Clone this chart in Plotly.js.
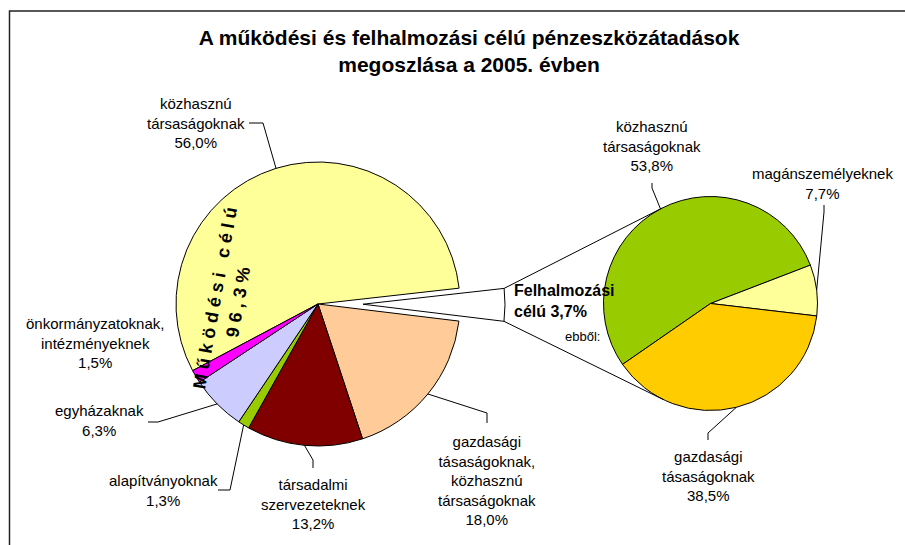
<!DOCTYPE html>
<html><head><meta charset="utf-8">
<script src="https://cdn.plot.ly/plotly-3.0.1.min.js"></script>
<style>html,body{margin:0;padding:0;background:#fff}</style>
</head><body><div id="chart" style="width:905px;height:545px"></div>
<script>
// ---- data ----
const chartTitle = 'A működési és felhalmozási célú pénzeszközátadások<br>megoszlása a 2005. évben';
const leftLabels = ['közhasznú<br>társaságoknak', 'Felhalmozási<br>célú', 'gazdasági<br>tásaságoknak,<br>közhasznú<br>társaságoknak', 'társadalmi<br>szervezeteknek', 'alapítványoknak', 'egyházaknak', 'önkormányzatoknak,<br>intézményeknek'];
const leftValues = [56.0, 3.7, 18.0, 13.2, 1.3, 6.3, 1.5];
const leftColors = ['#FFFF99', '#FFFFFF', '#FFCC99', '#800000', '#99CC00', '#CCCCFF', '#FF00FF'];
const rightLabels = ['közhasznú<br>társaságoknak', 'magánszemélyeknek', 'gazdasági<br>tásaságoknak'];
const rightValues = [53.8, 7.7, 38.5];
const rightColors = ['#99CC00', '#FFFF99', '#FFCC00'];
const otherIndex = 1;
const operatingTitle = 'Működési célú';
const breakdownNote = 'ebből:';

// ---- layout geometry (pixels) ----
const W = 905, H = 545;
const L = {cx: 318, cy: 304, r: 142, rot: -118, pull: 0.317};
const R = {cx: 710.5, cy: 303.5, r: 107, rot: -124.7};
const X = px => px / W;
const Y = py => 1 - py / H;
const FONT = 'Liberation Sans, Arial, sans-serif';

function fmt(v) { return v.toFixed(1).replace('.', ',') + '%'; }
function spaced(s) { return s.split(' ').map(w => Array.from(w).join('\u00A0')).join('\u00A0\u00A0\u00A0'); }
function sliceAngles(values, rot) {
  const tot = values.reduce((a, b) => a + b, 0);
  let cum = 0;
  return values.map(v => { const a0 = rot + 360 * cum / tot; cum += v; return [a0, rot + 360 * cum / tot]; });
}
function pt(cx, cy, r, deg) { const a = deg * Math.PI / 180; return [cx + r * Math.sin(a), cy - r * Math.cos(a)]; }

const angL = sliceAngles(leftValues, L.rot);
const angR = sliceAngles(rightValues, R.rot);

function domainFor(c, ext) {
  return {x: [X(c.cx - ext), X(c.cx + ext)], y: [Y(c.cy + ext), Y(c.cy - ext)]};
}

const traces = [
  {type: 'pie', values: leftValues, labels: leftLabels.map(s => s.replace(/<br>/g, ' ')), sort: false,
   direction: 'clockwise', rotation: L.rot,
   pull: leftValues.map((v, i) => i === otherIndex ? L.pull : 0),
   marker: {colors: leftColors, line: {color: '#000', width: 1}},
   textinfo: 'none', hoverinfo: 'none', showlegend: false,
   domain: domainFor(L, L.r * (1 + L.pull))},
  {type: 'pie', values: rightValues, labels: rightLabels.map(s => s.replace(/<br>/g, ' ')), sort: false,
   direction: 'clockwise', rotation: R.rot,
   marker: {colors: rightColors, line: {color: '#000', width: 1}},
   textinfo: 'none', hoverinfo: 'none', showlegend: false,
   domain: domainFor(R, R.r)}
];

// ---- connector lines (white slice -> second pie tangents) ----
const shapes = [];
const [o0, o1] = angL[otherIndex];
const om = (o0 + o1) / 2;
const oc = pt(L.cx, L.cy, L.pull * L.r, om);
const P1 = pt(oc[0], oc[1], L.r, o0);
const P2 = pt(oc[0], oc[1], L.r, o1);
function tangent(P, sign) {
  const dx = P[0] - R.cx, dy = P[1] - R.cy;
  const d = Math.hypot(dx, dy);
  const phi = Math.atan2(dx, -dy) * 180 / Math.PI;
  const alpha = Math.acos(R.r / d) * 180 / Math.PI;
  return pt(R.cx, R.cy, R.r, phi + sign * alpha);
}
const T1 = tangent(P1, 1), T2 = tangent(P2, -1);
[[P1, T1], [P2, T2]].forEach(([a, b]) => shapes.push({type: 'line', xref: 'paper', yref: 'paper',
  x0: X(a[0]), y0: Y(a[1]), x1: X(b[0]), y1: Y(b[1]), line: {color: '#000', width: 1}}));

// frame
shapes.push({type: 'rect', xref: 'paper', yref: 'paper', x0: X(9.5), x1: 1.05, y0: -0.05, y1: Y(11),
  line: {color: '#222', width: 1.5}, fillcolor: 'rgba(0,0,0,0)'});

// ---- labels and leader lines ----
const leftLabelPos = {0: [196, 123], 2: [487, 480], 3: [313, 504], 4: [163, 490], 5: [99, 420], 6: [95, 343]};
const leftLeader = {0: [[249, 123], [263, 123]], 2: [[487, 423], [487, 413]], 3: [[313, 468], [313, 460]],
                    4: [[218, 490], [230, 490]], 5: [[148, 422], [158, 422]]};
const rightLabelPos = {0: [652, 146], 1: [822, 183.5], 2: [708, 476]};
const rightLeader = {0: [[652, 183], [652, 188]], 1: [[824, 205], [824, 212]], 2: [[708, 440], [708, 433]]};

const annotations = [];
function addLabels(labels, values, ang, c, pos, leaders) {
  labels.forEach((lab, i) => {
    if (pos[i]) {
      annotations.push({xref: 'paper', yref: 'paper', x: X(pos[i][0]), y: Y(pos[i][1]),
        xanchor: 'center', yanchor: 'middle', align: 'center', showarrow: false,
        text: lab + '<br>' + fmt(values[i]), font: {family: FONT, size: 15, color: '#000'}});
    }
    if (leaders[i]) {
      const m = (ang[i][0] + ang[i][1]) / 2;
      const e = pt(c.cx, c.cy, c.r, m);
      const pts = leaders[i].concat([e]);
      const path = 'M ' + pts.map(p => X(p[0]) + ' ' + Y(p[1])).join(' L ');
      shapes.push({type: 'path', xref: 'paper', yref: 'paper', path: path, line: {color: '#000', width: 1}});
    }
  });
}
addLabels(leftLabels, leftValues, angL, L, leftLabelPos, leftLeader);
addLabels(rightLabels, rightValues, angR, R, rightLabelPos, rightLeader);

annotations.push({xref: 'paper', yref: 'paper', x: X(512), y: Y(301.5), xanchor: 'left', yanchor: 'middle',
  align: 'left', showarrow: false, text: leftLabels[otherIndex] + ' ' + fmt(leftValues[otherIndex]),
  font: {family: FONT, size: 16, color: '#000', weight: 700}});
annotations.push({xref: 'paper', yref: 'paper', x: X(602), y: Y(336), xanchor: 'right', yanchor: 'middle',
  showarrow: false, text: breakdownNote, font: {family: FONT, size: 13, color: '#000'}});

const operatingTotal = leftValues.reduce((a, b, i) => i === otherIndex ? a : a + b, 0);
annotations.push({xref: 'paper', yref: 'paper', x: X(226), y: Y(300), xanchor: 'center', yanchor: 'middle',
  align: 'center', showarrow: false, textangle: -80,
  text: spaced(operatingTitle) + '<br>' + spaced(fmt(operatingTotal)),
  font: {family: FONT, size: 18, color: '#000', weight: 700}});

const layout = {
  width: W, height: H, margin: {l: 0, r: 0, t: 0, b: 0},
  paper_bgcolor: '#fff', plot_bgcolor: '#fff',
  title: {text: chartTitle, font: {family: FONT, size: 21, color: '#000', weight: 700},
          x: X(469), xanchor: 'center', xref: 'paper', y: Y(45), yanchor: 'middle', yref: 'paper'},
  shapes: shapes, annotations: annotations, showlegend: false
};
Plotly.newPlot('chart', traces, layout, {displayModeBar: false, staticPlot: true});
</script></body></html>
